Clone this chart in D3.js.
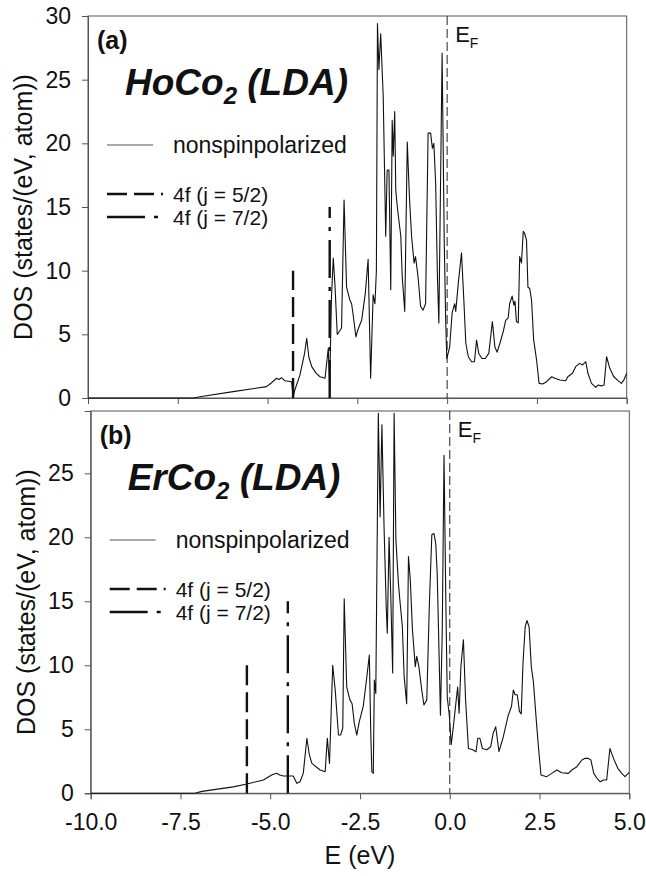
<!DOCTYPE html>
<html>
<head>
<meta charset="utf-8">
<script src="https://cdnjs.cloudflare.com/ajax/libs/d3/7.8.5/d3.min.js"></script>
<style>
body { margin: 0; background: #fff; }
svg { display: block; font-family: "Liberation Sans", Arial, sans-serif; }
</style>
</head>
<body>
<div id="chart"></div>
<script>
// DOS (a) HoCo2
var energyHo = [-10, -7.05, -6.88, -5.96, -5.03, -4.89, -4.75, -4.68, -4.61, -4.52, -4.33, -4.29, -4.24, -4.1, -3.97, -3.91, -3.85, -3.77, -3.65, -3.54, -3.4, -3.31, -3.27, -3.22, -3.17, -3.12, -3.06, -3.03, -2.94, -2.87, -2.8, -2.71, -2.66, -2.62, -2.54, -2.48, -2.38, -2.28, -2.2, -2.13, -2.06, -2.01, -1.97, -1.94, -1.9, -1.85, -1.78, -1.71, -1.67, -1.62, -1.57, -1.53, -1.5, -1.46, -1.43, -1.38, -1.29, -1.25, -1.18, -1.11, -1.05, -0.99, -0.92, -0.88, -0.81, -0.74, -0.67, -0.6, -0.53, -0.46, -0.41, -0.37, -0.32, -0.27, -0.23, -0.14, -0.08, -0.04, -0.01, 0.07, 0.14, 0.21, 0.24, 0.31, 0.4, 0.47, 0.52, 0.59, 0.68, 0.76, 0.82, 0.88, 0.97, 1.06, 1.16, 1.26, 1.33, 1.39, 1.47, 1.56, 1.63, 1.7, 1.74, 1.81, 1.86, 1.89, 1.93, 1.98, 2.02, 2.07, 2.12, 2.16, 2.21, 2.25, 2.3, 2.35, 2.41, 2.49, 2.56, 2.66, 2.77, 2.91, 3.0, 3.14, 3.3, 3.36, 3.49, 3.58, 3.69, 3.77, 3.86, 3.92, 4.02, 4.14, 4.2, 4.3, 4.37, 4.44, 4.53, 4.64, 4.76, 4.85, 4.92, 5.0];
var dosHo = [0, 0, 0.1, 0.5, 0.89, 1.2, 1.55, 1.45, 1.6, 1.35, 1.28, 0.05, 0.63, 1.8, 3.5, 4.69, 3.2, 2.46, 1.95, 1.67, 1.55, 3.9, 1.0, 8.0, 11.0, 8.7, 5.0, 5.1, 5.5, 15.55, 8.7, 7.7, 7.4, 6.6, 4.8, 5.4, 6.1, 8.2, 10.9, 1.55, 8.1, 7.4, 10.0, 29.4, 25.8, 28.6, 23.7, 12.7, 17.9, 17.9, 8.5, 21.8, 19.0, 22.5, 16.3, 14.8, 12.7, 9.5, 6.8, 20.1, 15.8, 12.7, 10.6, 11.1, 9.5, 7.2, 6.9, 7.4, 20.8, 20.8, 19.6, 20.0, 16.9, 9.5, 5.9, 27.1, 12.2, 6.1, 3.1, 4.0, 6.7, 7.4, 6.8, 9.0, 11.4, 7.4, 4.3, 3.24, 2.85, 2.85, 4.55, 3.5, 3.1, 3.1, 3.5, 6.0, 4.0, 3.6, 4.3, 5.2, 6.1, 6.3, 7.4, 8.0, 7.3, 7.6, 6.0, 5.9, 11.1, 10.6, 13.1, 12.9, 12.4, 8.7, 8.6, 7.7, 4.55, 3.0, 1.15, 1.1, 1.28, 1.67, 1.55, 1.41, 1.35, 1.67, 1.94, 2.46, 2.72, 2.6, 2.85, 1.94, 1.15, 0.84, 1.02, 0.95, 1.02, 3.24, 2.33, 1.67, 1.36, 1.15, 1.41, 1.94];

// DOS (b) ErCo2
var energyEr = [-10, -7.1, -6.9, -6.03, -5.65, -5.19, -4.96, -4.82, -4.74, -4.63, -4.36, -4.26, -4.17, -4.08, -3.98, -3.91, -3.84, -3.61, -3.47, -3.41, -3.35, -3.26, -3.19, -3.1, -3.04, -2.98, -2.94, -2.87, -2.78, -2.72, -2.66, -2.59, -2.52, -2.41, -2.32, -2.24, -2.2, -2.17, -2.13, -2.1, -2.06, -1.99, -1.94, -1.89, -1.83, -1.77, -1.74, -1.69, -1.64, -1.59, -1.55, -1.5, -1.43, -1.39, -1.32, -1.27, -1.2, -1.15, -1.1, -1.04, -0.96, -0.92, -0.86, -0.78, -0.72, -0.64, -0.57, -0.5, -0.44, -0.39, -0.35, -0.29, -0.26, -0.21, -0.16, -0.11, -0.07, -0.01, 0.04, 0.1, 0.18, 0.22, 0.26, 0.31, 0.38, 0.44, 0.52, 0.64, 0.73, 0.78, 0.84, 0.91, 1.03, 1.14, 1.21, 1.28, 1.37, 1.49, 1.63, 1.72, 1.77, 1.82, 1.88, 1.94, 1.99, 2.04, 2.1, 2.15, 2.21, 2.27, 2.33, 2.41, 2.47, 2.54, 2.7, 2.84, 2.98, 3.12, 3.3, 3.4, 3.54, 3.68, 3.77, 3.86, 3.93, 4.01, 4.1, 4.19, 4.28, 4.37, 4.46, 4.56, 4.68, 4.79, 4.88, 4.97, 5.0];
var dosEr = [0, 0, 0.15, 0.5, 0.73, 1.04, 1.43, 1.56, 1.43, 1.35, 1.35, 0.78, 0.9, 1.56, 4.3, 3.0, 2.34, 1.82, 1.69, 4.3, 2.34, 10.0, 8.07, 4.55, 4.55, 5.1, 15.2, 8.3, 7.3, 7.0, 5.5, 4.55, 5.6, 6.8, 8.85, 10.8, 4.7, 1.69, 1.56, 8.85, 7.8, 29.7, 21.6, 28.8, 20.8, 14.6, 12.5, 20.0, 15.1, 9.4, 29.7, 19.8, 16.4, 15.1, 13.0, 9.1, 7.0, 18.5, 16.7, 12.8, 9.9, 10.7, 9.9, 8.07, 6.9, 7.3, 14.6, 20.2, 20.3, 19.5, 17.2, 9.9, 6.1, 12.5, 26.4, 15.1, 7.5, 6.0, 3.8, 5.2, 7.3, 8.3, 6.25, 9.9, 12.0, 7.3, 3.5, 3.4, 3.25, 4.3, 4.3, 3.5, 3.4, 3.64, 4.7, 5.2, 3.25, 4.4, 6.1, 6.8, 8.07, 7.7, 7.7, 6.4, 6.2, 10.2, 13.0, 13.5, 13.0, 9.9, 8.7, 5.7, 3.6, 1.43, 1.3, 1.56, 1.82, 1.6, 1.56, 1.82, 2.08, 2.6, 2.73, 2.73, 2.6, 1.56, 1.17, 0.9, 1.04, 1.04, 3.5, 2.73, 1.95, 1.56, 1.3, 1.56, 1.6];

// 4f levels: energy (eV) and line height
var f52Ho = [-4.29, 10], f72Ho = [-3.27, 15];
var f52Er = [-5.65, 10], f72Er = [-4.51, 15];

var xTicks = [-10, -7.5, -5, -2.5, 0, 2.5, 5];
var yTicksHo = [0, 5, 10, 15, 20, 25, 30];
var yTicksEr = [0, 5, 10, 15, 20, 25];
var legendLabels = ["nonspinpolarized", "4f (j = 5/2)", "4f (j = 7/2)"];

var W = 646, H = 876;
var dash52 = "20,7", dash72 = "38,9,4,9";

var svg = d3.select("#chart")
    .append("svg")
    .attr("width", W)
    .attr("height", H);

svg.append("rect").attr("width", W).attr("height", H).attr("fill", "#fff");

function drawPanel(p) {
    var x = d3.scaleLinear().domain([-10, 5]).range([p.left, p.right]);
    var y = d3.scaleLinear().domain([0, p.ymax]).range([p.bottom, p.top]);
    var g = svg.append("g");

    // frame
    g.append("rect")
        .attr("x", p.left).attr("y", p.top)
        .attr("width", p.right - p.left).attr("height", p.bottom - p.top)
        .attr("fill", "none").attr("stroke", "#555").attr("stroke-width", 1);

    // axes
    var xa = g.append("g")
        .attr("transform", "translate(0," + p.bottom + ")")
        .call(d3.axisBottom(x).tickValues(xTicks).tickSize(6).tickPadding(14));
    var ya = g.append("g")
        .attr("transform", "translate(" + p.left + ",0)")
        .call(d3.axisLeft(y).tickValues(p.yTicks).tickSize(6).tickPadding(11).tickFormat(d3.format("d")));
    [xa, ya].forEach(function(a) {
        a.select(".domain").attr("stroke", "#555");
        a.selectAll(".tick line").attr("stroke", "#555");
        a.selectAll("text").attr("font-family", "Liberation Sans, Arial, sans-serif")
            .attr("font-size", 23).attr("fill", "#111");
    });
    // d3 puts a unicode minus; the figure uses a hyphen
    xa.selectAll("text").text(function(d) { return d3.format(".1f")(d).replace("\u2212", "-"); });
    if (!p.xLabels) xa.selectAll("text").remove();

    // y axis title
    g.append("text")
        .attr("transform", "translate(" + (p.left - 56) + "," + ((p.top + p.bottom) / 2) + ")rotate(-90)")
        .attr("text-anchor", "middle")
        .attr("font-size", 25)
        .attr("fill", "#111")
        .text("DOS (states/(eV, atom))");

    // Fermi level
    g.append("line")
        .attr("x1", x(0)).attr("x2", x(0))
        .attr("y1", p.top).attr("y2", p.bottom)
        .attr("stroke", "#222").attr("stroke-width", 1)
        .attr("stroke-dasharray", "9,4");
    var ef = g.append("text")
        .attr("x", x(0) + 8).attr("y", p.top + 26)
        .attr("font-size", 22).attr("fill", "#111")
        .text("E");
    ef.append("tspan").attr("font-size", 14).attr("dy", 6).text("F");

    // DOS curve
    var pts = p.energy.map(function(e, i) { return [e, p.dos[i]]; });
    g.append("path")
        .datum(pts)
        .attr("fill", "none")
        .attr("stroke", "#111")
        .attr("stroke-width", 1.1)
        .attr("stroke-linejoin", "round")
        .attr("d", d3.line()
            .x(function(d) { return x(d[0]); })
            .y(function(d) { return y(d[1]); }));

    // 4f levels
    [[p.f52, dash52], [p.f72, dash72]].forEach(function(f) {
        g.append("line")
            .attr("x1", x(f[0][0])).attr("x2", x(f[0][0]))
            .attr("y1", y(0)).attr("y2", y(f[0][1]))
            .attr("stroke", "#111").attr("stroke-width", 2.4)
            .attr("stroke-dasharray", f[1]);
    });

    // panel tag and title
    g.append("text")
        .attr("x", p.left + 9).attr("y", p.top + 33)
        .attr("font-size", 25).attr("font-weight", "bold").attr("fill", "#111")
        .text(p.tag);
    var t = g.append("text")
        .attr("x", p.left + 37).attr("y", p.top + 79)
        .attr("font-size", 37).attr("font-weight", "bold").attr("font-style", "italic")
        .attr("fill", "#111")
        .text(p.compound[0]);
    t.append("tspan").attr("font-size", 24).attr("dy", 9).text(p.compound[1]);
    t.append("tspan").attr("dy", -9).text(" (LDA)");

    // legend
    var ly = [129, 178, 201];
    var lstyle = [[null, 1, "#555"], [dash52, 2.4, "#111"], [dash72, 2.4, "#111"]];
    legendLabels.forEach(function(lab, i) {
        g.append("line")
            .attr("x1", p.left + 19).attr("x2", p.left + (i == 0 ? 65 : 75))
            .attr("y1", p.top + ly[i]).attr("y2", p.top + ly[i])
            .attr("stroke", lstyle[i][2]).attr("stroke-width", lstyle[i][1])
            .attr("stroke-dasharray", lstyle[i][0]);
        g.append("text")
            .attr("x", p.left + 85).attr("y", p.top + ly[i] + 8)
            .attr("font-size", i == 0 ? 23 : 21).attr("fill", "#111")
            .text(lab);
    });
}

drawPanel({left: 88, right: 626.7, top: 16, bottom: 398, ymax: 30, yTicks: yTicksHo,
    energy: energyHo, dos: dosHo, f52: f52Ho, f72: f72Ho, tag: "(a)", compound: ["HoCo", "2"], xLabels: false});
drawPanel({left: 90.7, right: 629.3, top: 411, bottom: 793.3, ymax: 29.87, yTicks: yTicksEr,
    energy: energyEr, dos: dosEr, f52: f52Er, f72: f72Er, tag: "(b)", compound: ["ErCo", "2"], xLabels: true});

// x axis title
svg.append("text")
    .attr("x", 360).attr("y", 864)
    .attr("text-anchor", "middle")
    .attr("font-size", 25)
    .attr("fill", "#111")
    .text("E (eV)");
</script>
</body>
</html>
